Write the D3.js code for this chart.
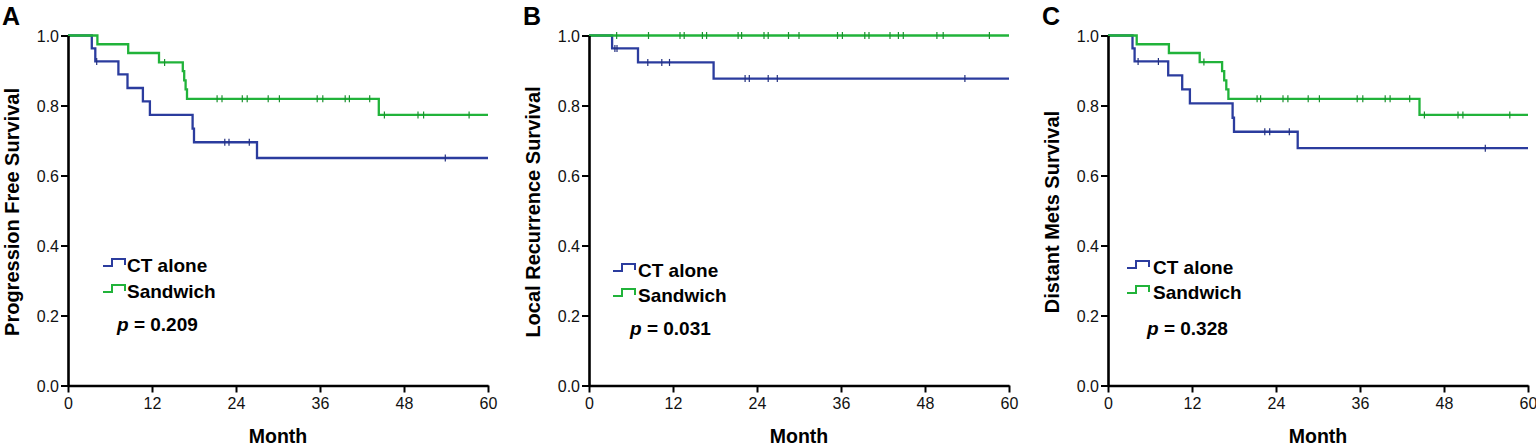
<!DOCTYPE html>
<html lang="en">
<head>
<meta charset="UTF-8" />
<title>survival curves</title>
<script src="https://cdn.jsdelivr.net/npm/d3@7"></script>
<style>
  body { margin: 0; background: #fff; }
  svg { display: block; font-family: "Liberation Sans", Arial, sans-serif; }
</style>
</head>
<body>
<svg id="svg"></svg>
<script>
// ---- data ----
const monthTicks = [0, 12, 24, 36, 48, 60];
const survTicks = [0, 0.2, 0.4, 0.6, 0.8, 1.0];
const panelLetters = ["A", "B", "C"];
const yTitles = ["Progression Free Survival", "Local Recurrence Survival", "Distant Mets Survival"];
const pValues = ["0.209", "0.031", "0.328"];
const groupNames = ["CT alone", "Sandwich"];

// steps: [month, survival after the drop]
const pfsCt = [[0, 1], [3.4, 0.963], [3.9, 0.926], [7.2, 0.889], [8.5, 0.850], [10.7, 0.812], [11.7, 0.773], [17.8, 0.734], [18.0, 0.695], [27.0, 0.650]];
const pfsCtCensor = [4.1, 22.4, 23.0, 25.9, 53.9];
const pfsSw = [[0, 1], [4.2, 0.975], [8.6, 0.950], [13.0, 0.923], [16.4, 0.898], [16.6, 0.872], [16.8, 0.846], [17.0, 0.819], [44.4, 0.773]];
const pfsSwCensor = [13.8, 21.3, 22.0, 24.9, 25.6, 28.6, 30.2, 35.6, 36.4, 39.6, 40.2, 43.1, 45.2, 50.0, 50.8, 57.3];

const lrsCt = [[0, 1], [3.3, 0.963], [7.0, 0.923], [17.8, 0.877]];
const lrsCtCensor = [3.7, 4.0, 8.4, 10.4, 11.5, 22.3, 22.9, 25.6, 26.9, 53.7];
const lrsSw = [[0, 1]];
const lrsSwCensor = [3.95, 8.5, 13.0, 13.6, 16.2, 16.8, 21.3, 21.8, 25.0, 25.6, 28.5, 30.0, 35.5, 36.2, 39.4, 40.0, 43.0, 44.2, 44.9, 49.7, 50.6, 57.2];

const dmsCt = [[0, 1], [3.5, 0.963], [3.8, 0.926], [8.6, 0.886], [10.6, 0.846], [11.7, 0.806], [17.8, 0.765], [18.0, 0.725], [27.1, 0.678]];
const dmsCtCensor = [4.3, 7.2, 22.4, 23.1, 25.9, 53.9];
const dmsSw = [[0, 1], [4.1, 0.975], [8.7, 0.950], [13.1, 0.924], [16.3, 0.898], [16.6, 0.872], [16.9, 0.846], [17.2, 0.819], [44.5, 0.773]];
const dmsSwCensor = [13.7, 21.3, 21.8, 25.0, 25.7, 28.6, 30.2, 35.6, 36.4, 39.6, 40.3, 43.1, 45.2, 50.0, 50.7, 57.4];

const curves = [
  [{ steps: pfsCt, censor: pfsCtCensor }, { steps: pfsSw, censor: pfsSwCensor }],
  [{ steps: lrsCt, censor: lrsCtCensor }, { steps: lrsSw, censor: lrsSwCensor }],
  [{ steps: dmsCt, censor: dmsCtCensor }, { steps: dmsSw, censor: dmsSwCensor }]
];

// ---- layout ----
const width = 1536, height = 448;
const colors = ["#2b3c9e", "#21b33a"];
const panelX = [68, 589, 1108];
const plotW = 420;
// legend placement per panel (relative to panel origin)
const legendPos = [
  { sym: 35, text: 59, rows: [265, 291], px: 49, py: 324 },
  { sym: 24, text: 49, rows: [270, 295], px: 41, py: 328 },
  { sym: 19, text: 45, rows: [267, 292], px: 39, py: 328 }
];

const svg = d3.select("#svg").attr("width", width).attr("height", height);

const x = d3.scaleLinear().domain([0, 60]).range([0, plotW]);
const y = d3.scaleLinear().domain([0, 1]).range([385.5, 35.5]);

const stepLine = d3.line()
  .x(d => x(d[0]))
  .y(d => y(d[1]))
  .curve(d3.curveStepAfter);

// survival value at time t for a step list
function survAt(steps, t) {
  let s = 1;
  steps.forEach(d => { if (d[0] <= t) s = d[1]; });
  return s;
}

panelLetters.forEach((letter, i) => {
  const g = svg.append("g").attr("transform", `translate(${panelX[i]},0)`);

  // panel letter
  g.append("text")
    .attr("x", -66).attr("y", 25)
    .style("font-size", "25px").style("font-weight", 700)
    .text(letter);

  // curves
  curves[i].forEach((c, k) => {
    const pts = c.steps.concat([[60, c.steps[c.steps.length - 1][1]]]);
    g.append("path")
      .attr("d", stepLine(pts))
      .attr("fill", "none")
      .attr("stroke", colors[k])
      .attr("stroke-width", 2.3);

    g.selectAll(null)
      .data(c.censor)
      .join("line")
      .attr("x1", d => x(d)).attr("x2", d => x(d))
      .attr("y1", d => y(survAt(c.steps, d)) - 3.5)
      .attr("y2", d => y(survAt(c.steps, d)) + 3.5)
      .attr("stroke", d3.color(colors[k]).darker(0.6))
      .attr("stroke-width", 1.2);
  });

  // axes
  const xAxis = g.append("g")
    .attr("transform", `translate(0,${y(0)})`)
    .call(d3.axisBottom(x).tickValues(monthTicks).tickSize(7).tickSizeOuter(0).tickPadding(5));
  const yAxis = g.append("g")
    .call(d3.axisLeft(y).tickValues(survTicks).tickFormat(d3.format(".1f")).tickSize(7).tickSizeOuter(0).tickPadding(2));

  [xAxis, yAxis].forEach(a => {
    a.select(".domain").attr("stroke", "#000").attr("stroke-width", 2.6);
    a.selectAll(".tick line").attr("stroke", "#000").attr("stroke-width", 2);
    a.selectAll(".tick text")
      .attr("fill", "#111")
      .style("font-size", "16px")
      .style("font-family", "'Liberation Sans', Arial, sans-serif");
  });
  yAxis.selectAll(".tick text").attr("dy", "0.36em");

  // axis titles
  g.append("text")
    .attr("x", plotW / 2).attr("y", 443)
    .attr("text-anchor", "middle")
    .style("font-size", "19.5px").style("font-weight", 700)
    .text("Month");

  g.append("text")
    .attr("transform", `translate(-49,212) rotate(-90)`)
    .attr("text-anchor", "middle")
    .style("font-size", "20px").style("font-weight", 700)
    .text(yTitles[i]);

  // legend
  const lp = legendPos[i];
  groupNames.forEach((name, k) => {
    const cy = lp.rows[k];
    g.append("path")
      .attr("d", `M${lp.sym},${cy + 1} H${lp.sym + 9} V${cy - 6} H${lp.sym + 22} V${cy}`)
      .attr("fill", "none")
      .attr("stroke", colors[k])
      .attr("stroke-width", 2);
    g.append("text")
      .attr("x", lp.text).attr("y", cy + 7)
      .style("font-size", "19px").style("font-weight", 700)
      .text(name);
  });

  const pt = g.append("text")
    .attr("x", lp.px).attr("y", lp.py + 7)
    .style("font-size", "19px").style("font-weight", 700);
  pt.append("tspan").style("font-style", "italic").text("p");
  pt.append("tspan").text(" = " + pValues[i]);
});
</script>
</body>
</html>
